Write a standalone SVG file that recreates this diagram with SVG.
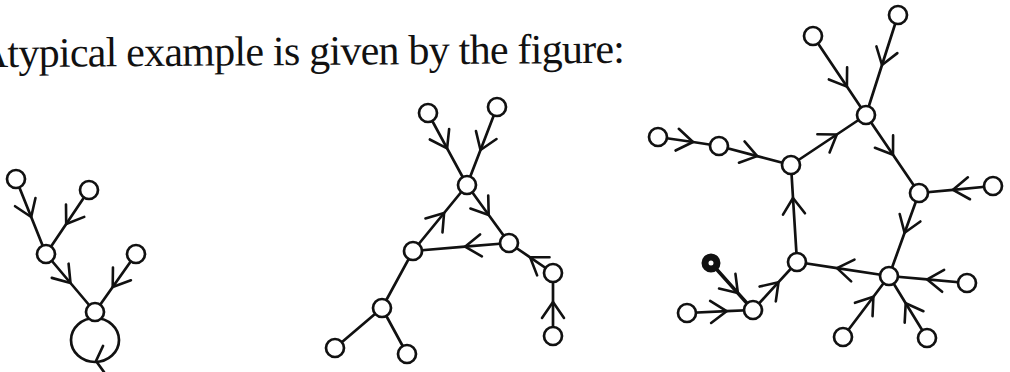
<svg xmlns="http://www.w3.org/2000/svg" width="1010" height="372" viewBox="0 0 1010 372">
<defs>
<style>
.e{fill:none;stroke:#111;stroke-width:2.7;stroke-linecap:round;stroke-linejoin:round}
.a{marker-mid:url(#chev)}
.n{fill:#fff;stroke:#111;stroke-width:2.7}
.t{font-family:"Liberation Serif","Times New Roman",serif;font-size:42px;fill:#111}
</style>
<marker id="chev" markerUnits="userSpaceOnUse" orient="auto" refX="0" refY="0" markerWidth="40" markerHeight="40" viewBox="-20 -20 40 40" overflow="visible">
<path d="M-16,-11 L0,0 L-16,11" fill="none" stroke="#111" stroke-width="2.6" stroke-linecap="round" stroke-linejoin="round"/>
</marker>
</defs>
<rect width="1010" height="372" fill="#fff"/>
<text class="t" x="-22" y="65" textLength="647" lengthAdjust="spacing" transform="rotate(-0.4 300 62)">Atypical example is given by the figure:</text>
<g id="connectors">
<!-- left graph -->
<path class="e a" d="M16,179 L31.2,217 L46,254"/>
<path class="e a" d="M89,190 L66.2,224 L46,254"/>
<path class="e a" d="M46,254 L70.5,283 L95,312"/>
<path class="e a" d="M136,254 L112.7,287 L95,312"/>
<ellipse class="e" cx="95" cy="340" rx="24" ry="22"/>
<path class="e" d="M103,346 L96,361 L104,372"/>
<!-- middle graph -->
<path class="e a" d="M428,113 L447.1,148.3 L467,185"/>
<path class="e a" d="M497,107 L480.5,150 L467,185"/>
<path class="e a" d="M413,251 L444.1,213 L467,185"/>
<path class="e a" d="M467,185 L488.7,215 L509,243"/>
<path class="e a" d="M509,243 L465,246.7 L413,251"/>
<path class="e a" d="M553,273 L530.1,257.3 L509,243"/>
<path class="e a" d="M553,336 L553,302 L553,273"/>
<path class="e" d="M413,251 L382,308"/>
<path class="e" d="M382,308 L335,348"/>
<path class="e" d="M382,308 L407,354"/>
<!-- right graph -->
<path class="e a" d="M813,36 L846.9,86.6 L866,115"/>
<path class="e a" d="M898,15 L882,65 L866,115"/>
<path class="e a" d="M658,137 L693,142 L719,146"/>
<path class="e a" d="M719,146 L757.2,156.1 L791,165"/>
<path class="e a" d="M791,165 L836.8,134.5 L866,115"/>
<path class="e a" d="M866,115 L893,154.8 L919,193"/>
<path class="e a" d="M993,186 L953,189.8 L919,193"/>
<path class="e a" d="M919,193 L904.6,232.8 L889,276"/>
<path class="e a" d="M889,276 L837,268.1 L797,262"/>
<path class="e a" d="M797,262 L793,198 L791,165"/>
<path class="e a" d="M967,283 L927.2,279.4 L889,276"/>
<path class="e a" d="M843,337 L873.4,296.7 L889,276"/>
<path class="e a" d="M927,338 L905.7,303.3 L889,276"/>
<path class="e a" d="M753,310 L778.5,282.2 L797,262"/>
<path class="e a" d="M687,313 L726.6,311.2 L753,310"/>
<path class="e a" d="M711,263 L737.9,293.1 L753,310" style="stroke-width:3.6"/>
</g>
<g id="left-graph">
<g id="L1"><circle class="n" cx="16" cy="179" r="9"/></g>
<g id="L2"><circle class="n" cx="89" cy="190" r="9"/></g>
<g id="L3"><circle class="n" cx="46" cy="254" r="9"/></g>
<g id="L4"><circle class="n" cx="136" cy="254" r="9"/></g>
<g id="L5"><circle class="n" cx="95" cy="312" r="9"/></g>
</g>
<g id="middle-graph">
<g id="M1"><circle class="n" cx="428" cy="113" r="9"/></g>
<g id="M2"><circle class="n" cx="497" cy="107" r="9"/></g>
<g id="M3"><circle class="n" cx="467" cy="185" r="9"/></g>
<g id="M4"><circle class="n" cx="413" cy="251" r="9"/></g>
<g id="M5"><circle class="n" cx="509" cy="243" r="9"/></g>
<g id="M6"><circle class="n" cx="553" cy="273" r="9"/></g>
<g id="M7"><circle class="n" cx="553" cy="336" r="9"/></g>
<g id="M8"><circle class="n" cx="382" cy="308" r="9"/></g>
<g id="M9"><circle class="n" cx="335" cy="348" r="9"/></g>
<g id="M10"><circle class="n" cx="407" cy="354" r="9"/></g>
</g>
<g id="right-graph">
<g id="R1"><circle class="n" cx="898" cy="15" r="9"/></g>
<g id="R2"><circle class="n" cx="813" cy="36" r="9"/></g>
<g id="R3"><circle class="n" cx="866" cy="115" r="9"/></g>
<g id="R4"><circle class="n" cx="791" cy="165" r="9"/></g>
<g id="R5"><circle class="n" cx="719" cy="146" r="9"/></g>
<g id="R6"><circle class="n" cx="658" cy="137" r="9"/></g>
<g id="R7"><circle class="n" cx="919" cy="193" r="9"/></g>
<g id="R8"><circle class="n" cx="993" cy="186" r="9"/></g>
<g id="R9"><circle class="n" cx="797" cy="262" r="9"/></g>
<g id="R10"><circle class="n" cx="889" cy="276" r="9"/></g>
<g id="R11"><circle class="n" cx="967" cy="283" r="9"/></g>
<g id="R12"><circle class="n" cx="843" cy="337" r="9"/></g>
<g id="R13"><circle class="n" cx="927" cy="338" r="9"/></g>
<g id="R14"><circle class="n" cx="753" cy="310" r="9"/></g>
<g id="R15"><circle class="n" cx="687" cy="313" r="9"/></g>
<g id="R16"><circle cx="711" cy="263" r="6" fill="#fff" stroke="#111" stroke-width="7"/></g>
</g>
</svg>
